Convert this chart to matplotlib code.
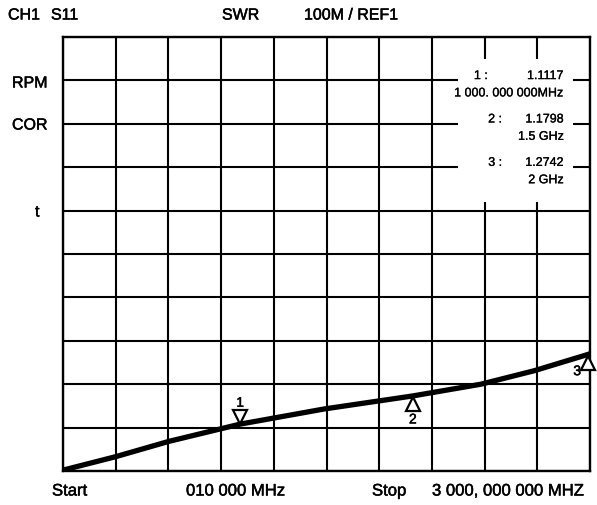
import matplotlib
matplotlib.use("Agg")
import matplotlib.pyplot as plt
import matplotlib.patheffects as pe
from matplotlib.patches import Rectangle

plt.rcParams["font.family"] = ["Liberation Sans", "DejaVu Sans"]

# trace, in grid divisions (10 x 10 screen)
trace_x = [0.0, 1.0, 2.0, 3.36, 4.96, 6.64, 7.93, 8.94, 10.0]
trace_y = [0.02, 0.33, 0.68, 1.08, 1.43, 1.73, 2.0, 2.31, 2.7]

marker_ids = ["1", "2", "3"]
marker_x = [3.36, 6.64, 10.0]
marker_val = ["1.1117", "1.1798", "1.2742"]
marker_freq = ["1 000. 000 000MHz", "1.5 GHz", "2 GHz"]

header = ["CH1", "S11", "SWR", "100M / REF1"]
header_x = [8, 51, 222, 304]
side_labels = ["RPM", "COR", "t"]
side_y = [84, 126, 213]
side_x = [12, 12, 35]
footer = ["Start", "010 000 MHz", "Stop", "3 000, 000 000 MHZ"]
footer_x = [52, 186, 372, 432]

W, H = 597, 506
fig = plt.figure(figsize=(W / 100, H / 100), dpi=100)
x0, x1, y0, y1 = 63, 590, 38, 472
ax = fig.add_axes([x0 / W, 1 - y1 / H, (x1 - x0) / W, (y1 - y0) / H])
ax.set_xlim(0, 10)
ax.set_ylim(0, 10)
ax.set_xticks(range(11))
ax.set_yticks(range(11))
ax.tick_params(length=0, labelbottom=False, labelleft=False)
ax.grid(True, color="black", linewidth=1.5)
for s in ax.spines.values():
    s.set_linewidth(1.7)

semi = [pe.withStroke(linewidth=0.35, foreground="black")]
thin = [pe.withStroke(linewidth=0.2, foreground="black")]

# white readout box over the grid
ax.add_patch(Rectangle((7.5, 6.2), 2.18, 3.3, facecolor="white",
                       edgecolor="none", zorder=3))

ax.plot(trace_x, trace_y, color="black", linewidth=3.8, zorder=4,
        solid_capstyle="butt")

def ycurve(x):
    for i in range(len(trace_x) - 1):
        if trace_x[i] <= x <= trace_x[i + 1]:
            t = (x - trace_x[i]) / (trace_x[i + 1] - trace_x[i])
            return trace_y[i] + t * (trace_y[i + 1] - trace_y[i])
    return trace_y[-1]

mk = dict(markersize=10, markerfacecolor="white", markeredgecolor="black",
          markeredgewidth=1.6, zorder=5, clip_on=False, linestyle="none")
# marker 1 above trace, pointing down
mx = marker_x[0]
ax.plot(mx, ycurve(mx) + 0.16, marker="v", **mk)
ax.text(mx, ycurve(mx) + 0.33, marker_ids[0], ha="center", va="bottom",
        fontsize=10, zorder=6, path_effects=semi)
# marker 2 below trace, pointing up
mx = marker_x[1]
ax.plot(mx, ycurve(mx) - 0.19, marker="^", **mk)
ax.text(mx, ycurve(mx) - 0.38, marker_ids[1], ha="center", va="top",
        fontsize=10, zorder=6, path_effects=semi)
# marker 3 below trace at the right edge
mx = marker_x[2]
ax.plot(mx - 0.04, ycurve(mx) - 0.2, marker="^", **mk)
ax.text(mx - 0.17, ycurve(mx) - 0.4, marker_ids[2], ha="right", va="center",
        fontsize=10, zorder=6, path_effects=semi)

# readout text
rows_y = [9.1, 8.1, 7.1]
colon_x = [8.06, 8.33, 8.33]
for i in range(3):
    ax.text(colon_x[i], rows_y[i], marker_ids[i] + " :", ha="right",
            va="center", fontsize=9, zorder=6, path_effects=thin)
    ax.text(9.5, rows_y[i], marker_val[i], ha="right", va="center",
            fontsize=9, zorder=6, path_effects=thin)
    ax.text(9.5, rows_y[i] - 0.4, marker_freq[i], ha="right", va="center",
            fontsize=9, zorder=6, path_effects=thin)

for label, px in zip(header, header_x):
    fig.text(px / W, 1 - 16 / H, label, ha="left", va="center", fontsize=11.5,
             path_effects=semi)
for label, px, py in zip(side_labels, side_x, side_y):
    fig.text(px / W, 1 - py / H, label, ha="left", va="center", fontsize=11.5,
             path_effects=semi)
for label, px in zip(footer, footer_x):
    fig.text(px / W, 1 - 492 / H, label, ha="left", va="center", fontsize=12,
             path_effects=semi)

fig.savefig("out.png", dpi=100)
